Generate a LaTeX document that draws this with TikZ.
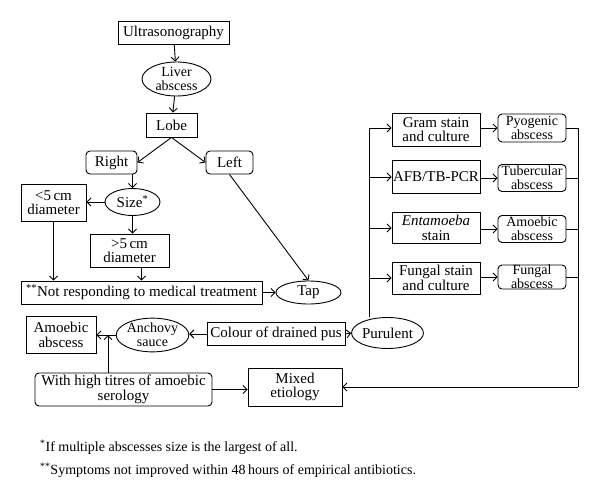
\documentclass[tikz,border=0pt]{standalone}
\usepackage{fontspec}
\setmainfont{Liberation Serif}
\usetikzlibrary{shapes.geometric,arrows.meta}
\begin{document}
\begin{tikzpicture}[x=1pt,y=-1pt,
  every node/.style={font=\fontsize{15}{14.5}\selectfont, inner sep=0pt, align=center},
  tight/.style={font=\fontsize{14}{14}\selectfont},
  rbox/.style={draw, line width=0.9pt, rectangle},
  rrbox/.style={draw, line width=0.9pt, rectangle, rounded corners=4pt},
  ebox/.style={draw, line width=0.9pt, ellipse},
  arr/.style={line width=0.9pt, -{Straight Barb[length=4pt,width=8pt]}},
  ln/.style={line width=0.9pt},
  foot/.style={font=\fontsize{14}{14}\selectfont, anchor=west}
]
\useasboundingbox (0,0) rectangle (600,500);
% left part
\node[rbox, minimum width=111, minimum height=23] (us) at (173.5,32.5) {Ultrasonography};
\node[ebox, tight, minimum width=69, minimum height=34] (liver) at (176.5,79) {Liver\\abscess};
\node[rbox, minimum width=51, minimum height=24] (lobe) at (171.5,125) {Lobe};
\node[rrbox, minimum width=51, minimum height=23] (right) at (111.5,162.5) {Right};
\node[rrbox, minimum width=47, minimum height=23] (left) at (229.5,162.5) {Left};
\node[rbox, minimum width=65, minimum height=37] (lt5) at (53.5,202.5) {<5\,cm\\diameter};
\node[ebox, minimum width=55, minimum height=27] (size) at (132.5,202) {Size\textsuperscript{*}};
\node[rbox, minimum width=79, minimum height=33] (gt5) at (129.5,250.5) {>5\,cm\\diameter};
\node[rbox, minimum width=241, minimum height=23] (nr) at (141.5,292.5) {\textsuperscript{**}Not responding to medical treatment};
\node[ebox, minimum width=65, minimum height=23] (tap) at (308.5,292.5) {Tap};
\node[rbox, minimum width=70, minimum height=37] (amleft) at (61,335) {Amoebic\\abscess};
\node[ebox, tight, minimum width=69, minimum height=27] (anch) at (152.5,335) {Anchovy\\sauce};
\node[rbox, minimum width=138, minimum height=23] (colour) at (276,334) {Colour of drained pus};
\node[ebox, minimum width=65, minimum height=31] (pur) at (387.5,333) {Purulent};
\node[rrbox, minimum width=177, minimum height=33] (titres) at (123.5,389.5) {With high titres of amoebic\\serology};
\node[rbox, minimum width=94, minimum height=38] (mixed) at (295,387) {Mixed\\etiology};
% right column
\node[rbox, minimum width=88, minimum height=33] (gram) at (436,129.5) {Gram stain\\and culture};
\node[rrbox, tight, minimum width=68, minimum height=28] (pyo) at (532,128) {Pyogenic\\abscess};
\node[rbox, minimum width=88, minimum height=33] (afb) at (436,177) {AFB/TB-PCR};
\node[rrbox, tight, minimum width=68, minimum height=27] (tub) at (532,178) {Tubercular\\abscess};
\node[rbox, minimum width=88, minimum height=31] (ent) at (436,228) {\textit{Entamoeba}\\stain};
\node[rrbox, tight, minimum width=68, minimum height=27] (amr) at (532,229) {Amoebic\\abscess};
\node[rbox, minimum width=88, minimum height=32] (fung) at (436,278) {Fungal stain\\and culture};
\node[rrbox, tight, minimum width=68, minimum height=24] (funa) at (532,277) {Fungal\\abscess};
% footnotes
\node[foot] (fn1) at (40,447) {\textsuperscript{*}If multiple abscesses size is the largest of all.};
\node[foot] (fn2) at (40,470) {\textsuperscript{**}Symptoms not improved within 48\,hours of empirical antibiotics.};
% coordinates
\coordinate (j) at (108,335);
\coordinate (tl) at (369,128);
\coordinate (tr) at (578,128);
\coordinate (br) at (578,387);
% connectors left
\draw[arr] (us) -- (liver);
\draw[arr] (liver) -- (lobe);
\draw[arr] (lobe.south) -- (right.east);
\draw[arr] (lobe.south) -- (left.west);
\draw[arr] (size.north |- right.south) -- (size.north);
\draw[arr] (size.west) -- (size.west -| lt5.east);
\draw[arr] (size.south) -- (size.south |- gt5.north);
\draw[arr] (lt5.south) -- (lt5.south |- nr.north);
\draw[arr] (gt5.south -| nr.north) -- (nr.north);
\draw[arr] (left.south) -- (tap.north);
\draw[arr] (nr.east) -- (tap.west);
\draw[arr] (colour.west) -- (colour.west -| anch.east);
\draw[arr] (anch.west) -- (anch.west -| amleft.east);
\draw[arr] (colour.east) -- (pur.west);
\draw[arr] (titres.north -| j) -- (j);
\draw[arr] (titres.east) -- (titres.east -| mixed.west);
% right column connectors
\draw[ln] (pur.north -| tl) -- (tl);
\draw[arr] (tl) -- (tl -| gram.west);
\draw[arr] (tl |- afb.west) -- (afb.west);
\draw[arr] (tl |- ent.west) -- (ent.west);
\draw[arr] (tl |- fung.west) -- (fung.west);
\draw[arr] (gram.east |- pyo.west) -- (pyo.west);
\draw[arr] (afb.east |- tub.west) -- (tub.west);
\draw[arr] (ent.east |- amr.west) -- (amr.west);
\draw[arr] (fung.east |- funa.west) -- (funa.west);
\draw[ln] (pyo.east) -- (tr);
\draw[ln] (tub.east) -- (tub.east -| tr);
\draw[ln] (amr.east) -- (amr.east -| tr);
\draw[ln] (funa.east) -- (funa.east -| tr);
\draw[ln] (tr) -- (br);
\draw[arr] (br) -- (br -| mixed.east);
\end{tikzpicture}
\end{document}
